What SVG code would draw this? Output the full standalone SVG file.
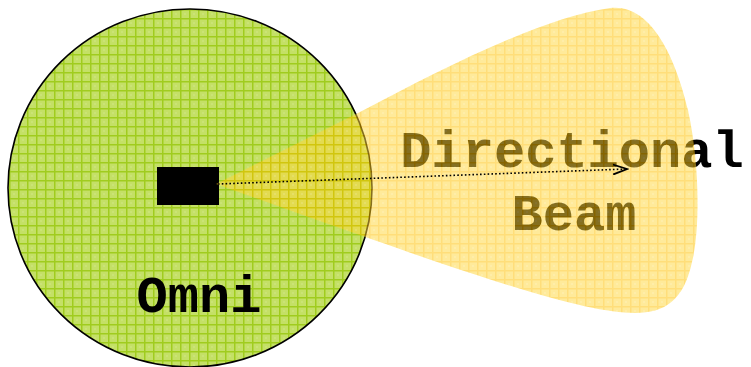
<svg xmlns="http://www.w3.org/2000/svg" width="751" height="367" viewBox="0 0 751 367">
<style>
.lbl{font-family:"Liberation Mono","Courier New",monospace;font-weight:bold;font-size:52px;fill:#000;text-anchor:middle}
.conn{stroke:#000;stroke-width:1.6;fill:none;stroke-dasharray:1.6 2.2}
</style>
<defs>
<pattern id="pg" width="9" height="9" patternUnits="userSpaceOnUse">
<rect width="9" height="9" fill="#c4e066"/>
<rect x="0" y="0" width="9" height="1.5" fill="#a0cc1e"/>
<rect x="0" y="0" width="1.5" height="9" fill="#a0cc1e"/>
<rect x="4.5" y="4.5" width="1" height="1" fill="#dcefa0"/>
</pattern>
<pattern id="py" width="9" height="9" patternUnits="userSpaceOnUse">
<rect width="9" height="9" fill="#ffd63c"/>
<rect x="0" y="0" width="9" height="1.5" fill="#ffc000"/>
<rect x="0" y="0" width="1.5" height="9" fill="#ffc000"/>
<rect x="4.5" y="4.5" width="1" height="1" fill="#ffeeaa"/>
</pattern>
<marker id="arr" markerWidth="16" markerHeight="12" refX="14" refY="6" orient="auto" markerUnits="userSpaceOnUse">
<path d="M0,1 L14,6 L0,11" fill="none" stroke="#000" stroke-width="1.8"/>
</marker>
</defs>
<g id="omni">
<ellipse cx="190" cy="188" rx="182" ry="179" fill="url(#pg)" stroke="#000" stroke-width="1.6"/>
<text class="lbl" x="199" y="312">Omni</text>
</g>
<g id="antenna">
<rect x="157" y="167" width="62" height="38" fill="#000"/>
</g>
<g id="beam">
<text class="lbl" x="572" y="167">Directional</text>
<text class="lbl" x="574" y="230">Beam</text>
<path d="M216,184 L360,112 C440,70 540,18 610,8 C650,3 675,55 688,110 C700,165 700,230 692,262 C684,300 665,313 635,313 C580,313 470,275 216,184 Z" fill="url(#py)" opacity="0.52"/>
</g>
<g id="connectors">
<path class="conn" d="M218,184 L627,169" marker-end="url(#arr)"/>
</g>
</svg>
